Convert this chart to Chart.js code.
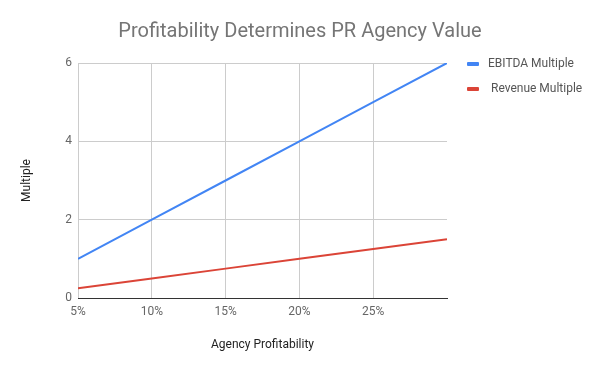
<!DOCTYPE html>
<html>
<head>
<meta charset="utf-8">
<script src="https://cdn.jsdelivr.net/npm/chart.js@4"></script>
<style>
    body { margin: 0; background: #fff; }
    #wrap { position: relative; width: 600px; height: 371px; }
    .legend_item { position: absolute; font: 12px Roboto, sans-serif; color: #555; white-space: nowrap; }
    .legend_item .col { position: absolute; left: 0; top: 6px; width: 12px; height: 4px; border-radius: 1px; }
</style>
</head>
<body>
<div id="wrap">
    <canvas id="myChart" width="600" height="371"></canvas>
    <div class="legend_item" style="left:467px; top:56px;"><span class="col" style="background:#4285F4"></span><span style="margin-left:21px">EBITDA Multiple</span></div>
    <div class="legend_item" style="left:467px; top:81px;"><span class="col" style="background:#DB4437"></span><span style="margin-left:24px">Revenue Multiple</span></div>
</div>
<script>
var profitability = [5, 10, 15, 20, 25, 30];
var ebitdaMultiple = [1, 2, 3, 4, 5, 6];
var revenueMultiple = [0.25, 0.5, 0.75, 1, 1.25, 1.5];
var yTicks = [0, 2, 4, 6];

var colors = {
    "ebitda": "#4285F4",
    "revenue": "#DB4437"
};

function toPoints(values) {
    return profitability.map((p, i) => ({ x: p, y: values[i] }));
}

Chart.defaults.font.family = 'Roboto, sans-serif';

var ctx = document.getElementById("myChart").getContext('2d');
var myChart = new Chart(ctx, {
    type: 'line',
    data: {
        datasets: [{
            label: 'EBITDA Multiple',
            data: toPoints(ebitdaMultiple),
            borderColor: colors.ebitda,
            backgroundColor: colors.ebitda,
            borderWidth: 2,
            pointRadius: 0
        }, {
            label: 'Revenue Multiple',
            data: toPoints(revenueMultiple),
            borderColor: colors.revenue,
            backgroundColor: colors.revenue,
            borderWidth: 2,
            pointRadius: 0
        }]
    },
    options: {
        responsive: false,
        animation: false,
        layout: { padding: 0 },
        plugins: {
            legend: { display: false },
            tooltip: { enabled: false },
            title: {
                display: true,
                text: 'Profitability Determines PR Agency Value',
                color: '#757575',
                font: { size: 20, weight: 'normal' },
                padding: { top: 20, bottom: 19 }
            }
        },
        scales: {
            x: {
                type: 'linear',
                min: 5,
                max: 30,
                afterFit: (scale) => { scale.height = 73; },
                ticks: {
                    stepSize: 5,
                    color: '#666',
                    font: { size: 12 },
                    padding: 7,
                    maxRotation: 0,
                    callback: (v) => v < 30 ? v + '%' : ''
                },
                grid: {
                    drawTicks: false,
                    color: (c) => c.tick && c.tick.value >= 30 ? 'rgba(0,0,0,0)' : '#ccc'
                },
                border: { color: '#333', width: 1 },
                title: {
                    display: true,
                    text: 'Agency Profitability',
                    color: '#222',
                    font: { size: 12 },
                    padding: { top: 0, bottom: 19 }
                }
            },
            y: {
                min: 0,
                max: 6,
                afterFit: (scale) => { scale.width = 78; },
                afterBuildTicks: (scale) => { scale.ticks = yTicks.map(v => ({ value: v })); },
                ticks: {
                    color: '#666',
                    font: { size: 12 },
                    padding: 6
                },
                grid: {
                    drawTicks: false,
                    color: '#ccc'
                },
                border: { display: false },
                title: {
                    display: true,
                    text: 'Multiple',
                    color: '#222',
                    font: { size: 12 },
                    padding: { top: 20, bottom: 0 }
                }
            },
            // empty right-hand box that leaves room for the legend
            legendSpace: {
                type: 'linear',
                position: 'right',
                display: true,
                afterFit: (scale) => { scale.width = 153; },
                ticks: { display: false },
                grid: { display: false, drawOnChartArea: false },
                border: { display: false }
            }
        }
    }
});
</script>
</body>
</html>
